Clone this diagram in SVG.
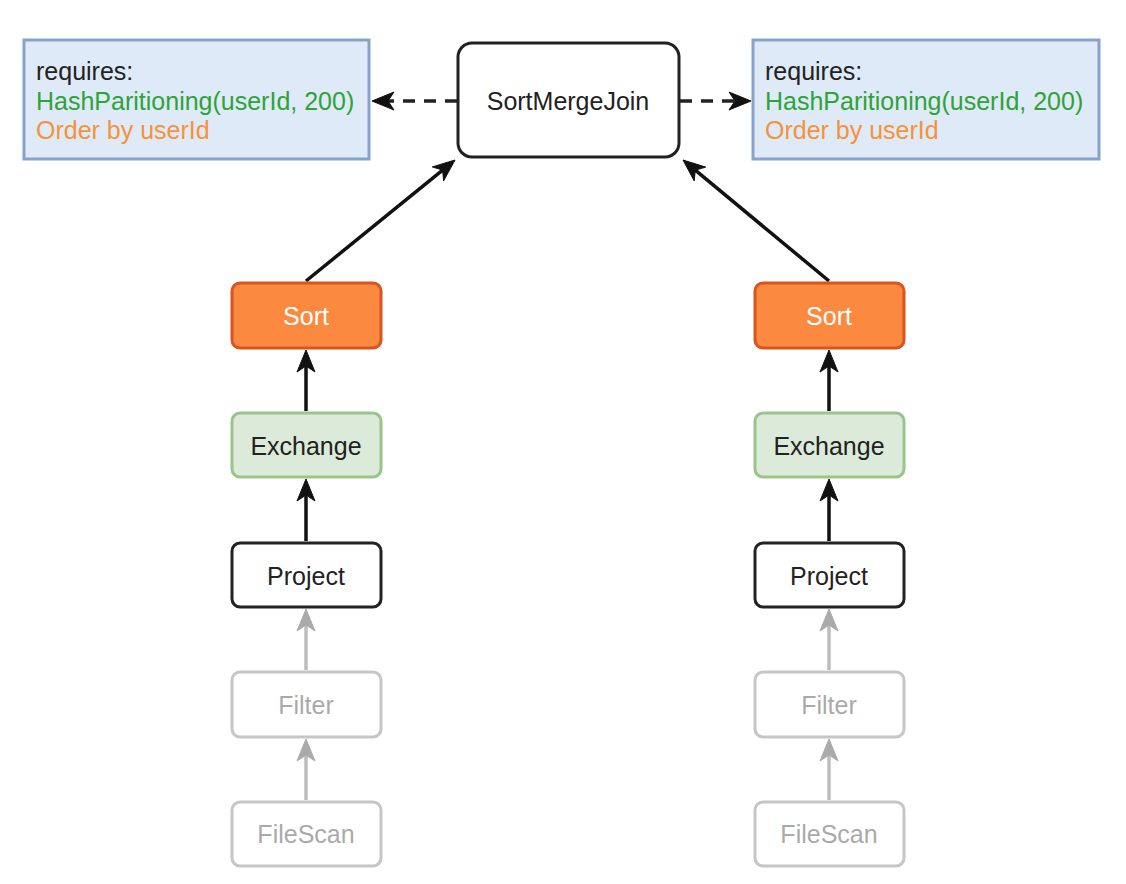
<svg xmlns="http://www.w3.org/2000/svg" width="1126" height="884" viewBox="0 0 1126 884">
<style>
text{font-family:"Liberation Sans",Arial,sans-serif;font-size:25px}
.c{text-anchor:middle;dominant-baseline:central}
.req{fill:#dfeaf9;stroke:#87a3cc;stroke-width:3}
.smj{fill:#fff;stroke:#222;stroke-width:3}
.sort{fill:#fb8a40;stroke:#d9541f;stroke-width:3}
.exch{fill:#dcebd9;stroke:#97c58a;stroke-width:3}
.proj{fill:#fff;stroke:#222;stroke-width:3}
.gray{fill:#fff;stroke:#c6c6c6;stroke-width:3}
.e{fill:none;stroke:#111;stroke-width:3.5}
.eg{fill:none;stroke:#bdbdbd;stroke-width:3.5}
.ed{fill:none;stroke:#222;stroke-width:3.5;stroke-dasharray:12 9}
.h{fill:#111;stroke:#111;stroke-width:1;stroke-linejoin:miter}
.hg{fill:#aaa;stroke:#aaa;stroke-width:1}
</style>
<rect width="1126" height="884" fill="#fff"/>
<g id="connectors">
<line class="ed" x1="457" y1="101" x2="388" y2="101"/>
<polygon class="h" points="372,101 394,92 388,101 394,110"/>
<line class="ed" x1="680" y1="101" x2="735" y2="101"/>
<polygon class="h" points="751,101 729,92 735,101 729,110"/>
<line class="e" x1="306" y1="281" x2="442.6" y2="170.1"/>
<polygon class="h" points="455,160 443.6,180.9 442.6,170.1 432.3,166.9"/>
<line class="e" x1="829" y1="281" x2="695.3" y2="170.2"/>
<polygon class="h" points="683,160 705.7,167.1 695.3,170.2 694.2,180.9"/>
<line class="e" x1="306" y1="411" x2="306" y2="366"/>
<polygon class="h" points="306,350 315,372 306,366 297,372"/>
<line class="e" x1="306" y1="541" x2="306" y2="495"/>
<polygon class="h" points="306,479 315,501 306,495 297,501"/>
<line class="eg" x1="306" y1="670" x2="306" y2="625"/>
<polygon class="hg" points="306,609 315,631 306,625 297,631"/>
<line class="eg" x1="306" y1="800" x2="306" y2="755"/>
<polygon class="hg" points="306,739 315,761 306,755 297,761"/>
<line class="e" x1="829" y1="411" x2="829" y2="366"/>
<polygon class="h" points="829,350 838,372 829,366 820,372"/>
<line class="e" x1="829" y1="541" x2="829" y2="495"/>
<polygon class="h" points="829,479 838,501 829,495 820,501"/>
<line class="eg" x1="829" y1="670" x2="829" y2="625"/>
<polygon class="hg" points="829,609 838,631 829,625 820,631"/>
<line class="eg" x1="829" y1="800" x2="829" y2="755"/>
<polygon class="hg" points="829,739 838,761 829,755 820,761"/>
</g>
<g id="req-left">
<rect class="req" x="24" y="40" width="345" height="119"/>
<text x="36" y="80" fill="#222">requires:</text>
<text x="36" y="110" fill="#2ea336">HashParitioning(userId, 200)</text>
<text x="36" y="139" fill="#f79239">Order by userId</text>
</g>
<g id="req-right">
<rect class="req" x="753" y="40" width="346" height="119"/>
<text x="765" y="80" fill="#222">requires:</text>
<text x="765" y="110" fill="#2ea336">HashParitioning(userId, 200)</text>
<text x="765" y="139" fill="#f79239">Order by userId</text>
</g>
<g id="smj">
<rect class="smj" x="458" y="43" width="221" height="114" rx="14"/>
<text class="c" x="568" y="101" fill="#222">SortMergeJoin</text>
</g>
<g id="sort-l"><rect class="sort" x="232" y="283" width="149" height="65" rx="8"/><text class="c" x="306" y="316" fill="#fff">Sort</text></g>
<g id="exchange-l"><rect class="exch" x="232" y="413" width="149" height="64" rx="8"/><text class="c" x="306" y="446" fill="#222">Exchange</text></g>
<g id="project-l"><rect class="proj" x="232" y="543" width="149" height="64" rx="8"/><text class="c" x="306" y="576" fill="#222">Project</text></g>
<g id="filter-l"><rect class="gray" x="232" y="672" width="149" height="65" rx="8"/><text class="c" x="306" y="705" fill="#aaa">Filter</text></g>
<g id="filescan-l"><rect class="gray" x="232" y="802" width="149" height="64" rx="8"/><text class="c" x="306" y="834" fill="#aaa">FileScan</text></g>
<g id="sort-r"><rect class="sort" x="755" y="283" width="149" height="65" rx="8"/><text class="c" x="829" y="316" fill="#fff">Sort</text></g>
<g id="exchange-r"><rect class="exch" x="755" y="413" width="149" height="64" rx="8"/><text class="c" x="829" y="446" fill="#222">Exchange</text></g>
<g id="project-r"><rect class="proj" x="755" y="543" width="149" height="64" rx="8"/><text class="c" x="829" y="576" fill="#222">Project</text></g>
<g id="filter-r"><rect class="gray" x="755" y="672" width="149" height="65" rx="8"/><text class="c" x="829" y="705" fill="#aaa">Filter</text></g>
<g id="filescan-r"><rect class="gray" x="755" y="802" width="149" height="64" rx="8"/><text class="c" x="829" y="834" fill="#aaa">FileScan</text></g>
</svg>
